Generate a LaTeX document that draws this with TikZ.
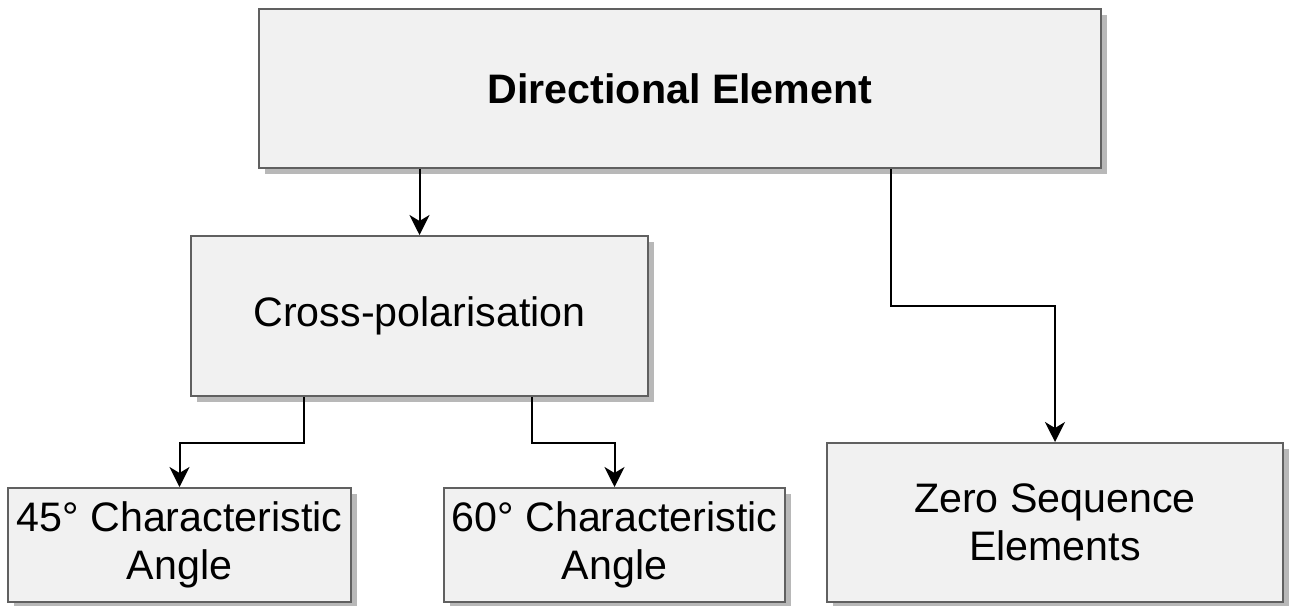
\documentclass[tikz,border=0pt]{standalone}
\usepackage{fontspec}
\setmainfont{Liberation Sans}
\usetikzlibrary{arrows.meta,positioning,calc,shadows}
\definecolor{boxfill}{HTML}{F1F1F1}
\definecolor{boxline}{HTML}{606060}
\definecolor{boxshadow}{HTML}{B8B8B8}
\begin{document}
\begin{tikzpicture}[
        box/.style={draw=boxline, line width=1pt, fill=boxfill, align=center, inner sep=2pt,
            font=\fontsize{20.6}{24}\selectfont,
            drop shadow={shadow xshift=2.75pt, shadow yshift=-2.75pt, fill=boxshadow, opacity=1}},
        arr/.style={-{Stealth[length=10pt,width=10pt,inset=3pt]}, line width=1pt}
    ]
    \useasboundingbox (0,0) rectangle (647pt,-302.5pt);
    \node[box, minimum width=421pt, minimum height=79.5pt, font=\fontsize{20.6}{24}\selectfont\bfseries] (dir) at (340pt,-44.25pt) {Directional Element};
    \node[box, minimum width=228.5pt, minimum height=80pt] (cross) at (209.75pt,-158pt) {Cross-polarisation};
    \node[box, minimum width=171.5pt, minimum height=57pt] (ang45) at (89.75pt,-272.5pt) {45° Characteristic\\ Angle};
    \node[box, minimum width=170.5pt, minimum height=57pt] (ang60) [right=45.5pt of ang45] {60° Characteristic\\ Angle};
    \node[box, minimum width=228pt, minimum height=79.5pt] (zero) at (527.5pt,-261.25pt) {Zero Sequence\\ Elements};

    \draw[arr] (dir.south -| cross.north) -- (cross.north);
    \draw[arr] ($(dir.south)+(105.5pt,0)$) -- ++(0,-68.5pt) -| (zero.north);
    \draw[arr] ($(cross.south)+(-57.75pt,0)$) -- ++(0,-23pt) -| (ang45.north);
    \draw[arr] ($(cross.south)+(56.25pt,0)$) -- ++(0,-23pt) -| (ang60.north);
\end{tikzpicture}
\end{document}
